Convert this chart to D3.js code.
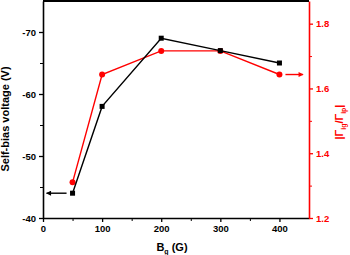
<!DOCTYPE html>
<html>
<head>
<meta charset="utf-8">
<script src="https://cdn.jsdelivr.net/npm/d3@7"></script>
<style>
  body { margin: 0; background: #fff; }
  text { font-family: "Liberation Sans", Arial, sans-serif; font-weight: bold; }
</style>
</head>
<body>
<div id="chart"></div>
<script>
// Data
const fields = [50, 100, 200, 300, 400];            // Bg (G)
const selfBias = [-44, -58, -69, -67, -65];         // Self-bias voltage (V)
const fluxRatio = [1.31, 1.643, 1.716, 1.716, 1.643]; // |Γig/Γip|

const xTicks = [0, 100, 200, 300, 400];
const leftTicks = [-40, -50, -60, -70];
const rightTicks = [1.2, 1.4, 1.6, 1.8];

const width = 350, height = 255;
const margin = { top: 1, right: 41, bottom: 37, left: 43 };
const innerW = width - margin.left - margin.right;
const innerH = height - margin.top - margin.bottom;

const svg = d3.select("#chart").append("svg")
    .attr("width", width)
    .attr("height", height);

const g = svg.append("g")
    .attr("transform", "translate(" + margin.left + "," + margin.top + ")");

// Scales
const x = d3.scaleLinear().domain([0, 450]).range([0, innerW]);
const yL = d3.scaleLinear().domain([-40, -75]).range([innerH, 0]);
const yR = d3.scaleLinear().domain([1.2, 1.87]).range([innerH, 0]);

// Minor ticks first (no labels)
g.append("g")
    .attr("transform", "translate(0," + innerH + ")")
    .call(d3.axisBottom(x).tickValues([50, 150, 250, 350]).tickSize(3).tickFormat(""))
    .call(a => a.select(".domain").remove());
g.append("g")
    .call(d3.axisLeft(yL).tickValues([-45, -55, -65]).tickSize(3).tickFormat(""))
    .call(a => a.select(".domain").remove());
g.append("g")
    .attr("transform", "translate(" + innerW + ",0)")
    .call(d3.axisRight(yR).tickValues([1.3, 1.5, 1.7]).tickSize(3).tickFormat(""))
    .call(a => a.select(".domain").remove())
    .selectAll("line").attr("stroke", "#f00");

// Major axes (plain hyphen for negatives, like the original)
const xAxis = g.append("g")
    .attr("transform", "translate(0," + innerH + ")")
    .call(d3.axisBottom(x).tickValues(xTicks).tickSize(4).tickSizeOuter(0).tickPadding(3)
        .tickFormat(d => String(d)));

const leftAxis = g.append("g")
    .call(d3.axisLeft(yL).tickValues(leftTicks).tickSize(4).tickSizeOuter(0).tickPadding(3)
        .tickFormat(d => String(d)));

const rightAxis = g.append("g")
    .attr("transform", "translate(" + innerW + ",0)")
    .call(d3.axisRight(yR).tickValues(rightTicks).tickSize(4).tickSizeOuter(0).tickPadding(3)
        .tickFormat(d => d.toFixed(1)));

[xAxis, leftAxis, rightAxis].forEach(function (a) {
    a.selectAll("text").style("font-size", "9.5px").style("font-weight", "bold");
    a.selectAll("line").attr("stroke-width", 1.3);
    a.select(".domain").attr("stroke-width", 1.6);
});
xAxis.selectAll("text").attr("fill", "#000");
leftAxis.selectAll("text").attr("fill", "#000");
rightAxis.selectAll("text").attr("fill", "#f00");
rightAxis.selectAll("line").attr("stroke", "#f00");
rightAxis.select(".domain").attr("stroke", "#f00");

// Top frame line
g.append("line")
    .attr("x1", 0).attr("x2", innerW)
    .attr("y1", 0).attr("y2", 0)
    .attr("stroke", "#000")
    .attr("stroke-width", 2);

// Red series (right axis)
const redLine = d3.line()
    .x((d, i) => x(fields[i]))
    .y(d => yR(d));
g.append("path")
    .datum(fluxRatio)
    .attr("d", redLine)
    .attr("fill", "none")
    .attr("stroke", "#f00")
    .attr("stroke-width", 1.4);
g.selectAll(".dotR")
    .data(fluxRatio)
    .enter().append("circle")
    .attr("class", "dotR")
    .attr("cx", (d, i) => x(fields[i]))
    .attr("cy", d => yR(d))
    .attr("r", 3)
    .attr("fill", "#f00");

// Black series (left axis)
const blackLine = d3.line()
    .x((d, i) => x(fields[i]))
    .y(d => yL(d));
g.append("path")
    .datum(selfBias)
    .attr("d", blackLine)
    .attr("fill", "none")
    .attr("stroke", "#000")
    .attr("stroke-width", 1.4);
g.selectAll(".dotL")
    .data(selfBias)
    .enter().append("rect")
    .attr("class", "dotL")
    .attr("x", (d, i) => x(fields[i]) - 2.5)
    .attr("y", d => yL(d) - 2.5)
    .attr("width", 5)
    .attr("height", 5)
    .attr("fill", "#000");

// Arrow heads
const defs = svg.append("defs");
[["arrowK", "#000"], ["arrowR", "#f00"]].forEach(function (m) {
    defs.append("marker")
        .attr("id", m[0])
        .attr("viewBox", "0 0 10 10")
        .attr("refX", 9).attr("refY", 5)
        .attr("markerWidth", 6).attr("markerHeight", 5)
        .attr("markerUnits", "userSpaceOnUse")
        .attr("orient", "auto")
        .append("path")
        .attr("d", "M0,0L10,5L0,10Z")
        .attr("fill", m[1]);
});

// Black arrow points to left axis
g.append("line")
    .attr("x1", x(50) - 6).attr("x2", x(6))
    .attr("y1", yL(selfBias[0])).attr("y2", yL(selfBias[0]))
    .attr("stroke", "#000").attr("stroke-width", 1.4)
    .attr("marker-end", "url(#arrowK)");

// Red arrow points to right axis
g.append("line")
    .attr("x1", x(400) + 6).attr("x2", x(440))
    .attr("y1", yR(fluxRatio[4])).attr("y2", yR(fluxRatio[4]))
    .attr("stroke", "#f00").attr("stroke-width", 1.4)
    .attr("marker-end", "url(#arrowR)");

// Axis titles
svg.append("text")
    .attr("transform", "translate(9,119) rotate(-90)")
    .attr("text-anchor", "middle")
    .style("font-size", "11px")
    .attr("fill", "#000")
    .text("Self-bias voltage (V)");

const xt = svg.append("text")
    .attr("x", 172).attr("y", 251)
    .attr("text-anchor", "middle")
    .style("font-size", "11px")
    .attr("fill", "#000");
xt.append("tspan").text("B");
xt.append("tspan").attr("dy", 3).style("font-size", "7px").text("g");
xt.append("tspan").attr("dy", -3).text(" (G)");

const rt = svg.append("text")
    .attr("transform", "translate(343,122) rotate(-90)")
    .attr("text-anchor", "middle")
    .style("font-size", "11px")
    .attr("fill", "#f00");
rt.append("tspan").text("|Γ");
rt.append("tspan").attr("dy", 3).style("font-size", "7px").text("ig");
rt.append("tspan").attr("dy", -3).text("/Γ");
rt.append("tspan").attr("dy", 3).style("font-size", "7px").text("ip");
rt.append("tspan").attr("dy", -3).text("|");
</script>
</body>
</html>
